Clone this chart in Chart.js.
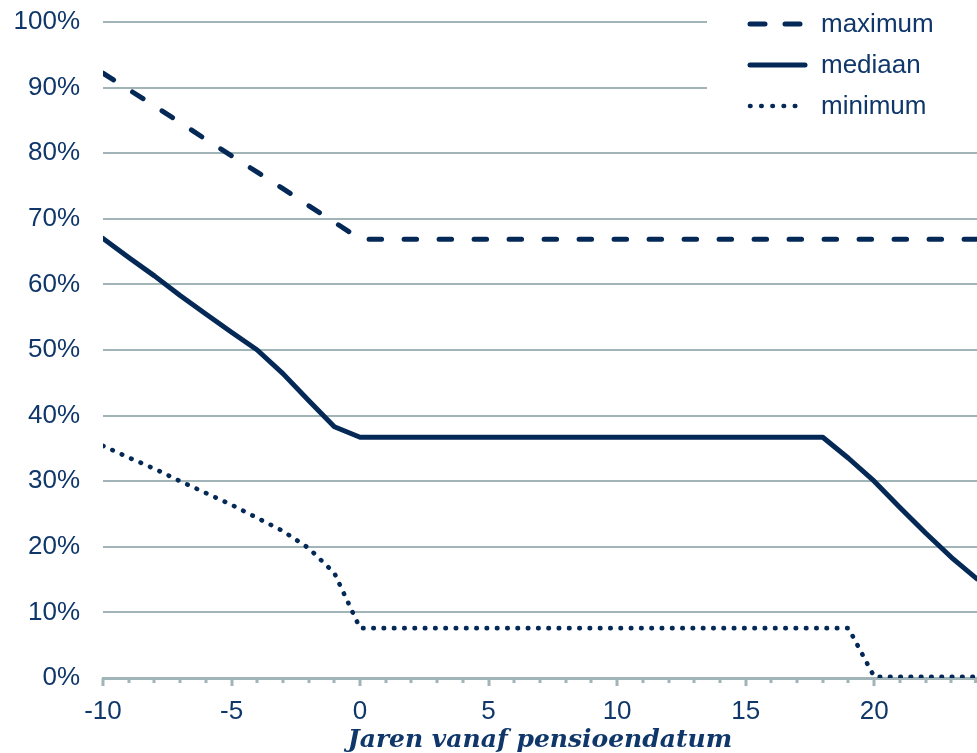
<!DOCTYPE html>
<html>
<head>
<meta charset="utf-8">
<script src="https://cdn.jsdelivr.net/npm/chart.js@4"></script>
<style>
html, body { margin: 0; padding: 0; background: #fff; }
</style>
</head>
<body>
<canvas id="grafiek" width="977" height="753"></canvas>
<script>
const jaren = [-10, -9, -8, -7, -6, -5, -4, -3, -2, -1, 0, 1, 2, 3, 4, 5, 6, 7, 8, 9, 10, 11, 12, 13, 14, 15, 16, 17, 18, 19, 20, 21, 22, 23, 24];

const maximum = [92.2, 89.7, 87.2, 84.7, 82.1, 79.6, 77.1, 74.6, 72.0, 69.5, 66.9,
    66.9, 66.9, 66.9, 66.9, 66.9, 66.9, 66.9, 66.9, 66.9, 66.9, 66.9, 66.9, 66.9, 66.9,
    66.9, 66.9, 66.9, 66.9, 66.9, 66.9, 66.9, 66.9, 66.9, 66.9];

const mediaan = [67.0, 64.1, 61.3, 58.3, 55.5, 52.7, 50.0, 46.4, 42.3, 38.3, 36.7,
    36.7, 36.7, 36.7, 36.7, 36.7, 36.7, 36.7, 36.7, 36.7, 36.7, 36.7, 36.7, 36.7, 36.7,
    36.7, 36.7, 36.7, 36.7, 33.5, 30.0, 26.0, 22.1, 18.4, 15.1];

const minimum = [35.4, 33.6, 31.9, 30.0, 28.2, 26.4, 24.4, 22.4, 19.8, 16.0, 7.6,
    7.6, 7.6, 7.6, 7.6, 7.6, 7.6, 7.6, 7.6, 7.6, 7.6, 7.6, 7.6, 7.6, 7.6,
    7.6, 7.6, 7.6, 7.6, 7.6, 0.2, 0.2, 0.2, 0.2, 0.2];

const yTicks = [0, 10, 20, 30, 40, 50, 60, 70, 80, 90, 100];
const xTitel = "Jaren vanaf pensioendatum";

const lijnKleur = "#042957";
const tekstKleur = "#10376a";
const rasterKleur = "#a1b5b9";
const letter = "'Liberation Sans', Arial, sans-serif";

function punten(reeks) {
    return jaren.map((j, i) => ({ x: j, y: reeks[i] }));
}

const stijlen = [
    { label: "maximum", dash: [15, 20], width: 5 },
    { label: "mediaan", dash: [], width: 5 },
    { label: "minimum", dash: [0.5, 10.7], width: 4.6 }
];

// legenda rechtsboven, met witte achtergrond over het raster
const legendaPlugin = {
    id: "legenda",
    beforeDatasetsDraw(chart) {
        const ctx = chart.ctx;
        ctx.save();
        ctx.fillStyle = "#fff";
        ctx.fillRect(707, 0, 270, 126);
        const rijen = [24, 65, 106];
        stijlen.forEach((s, i) => {
            ctx.beginPath();
            ctx.strokeStyle = lijnKleur;
            ctx.lineWidth = s.width;
            ctx.lineCap = "round";
            ctx.setLineDash(s.dash);
            ctx.moveTo(750, rijen[i]);
            ctx.lineTo(805, rijen[i]);
            ctx.stroke();
            ctx.setLineDash([]);
            ctx.fillStyle = tekstKleur;
            ctx.font = "26px " + letter;
            ctx.textBaseline = "middle";
            ctx.textAlign = "left";
            ctx.fillText(s.label, 821, rijen[i] + 1);
        });
        ctx.restore();
    }
};

// streepjes onder de x-as, lang bij elke 5 jaar
const streepjesPlugin = {
    id: "streepjes",
    afterDraw(chart) {
        const x = chart.scales.x;
        const ctx = chart.ctx;
        const y0 = chart.chartArea.bottom;
        ctx.save();
        ctx.strokeStyle = rasterKleur;
        ctx.lineWidth = 3;
        jaren.forEach(j => {
            const px = Math.min(Math.round(x.getPixelForValue(j)), 975.5);
            ctx.beginPath();
            ctx.moveTo(px, y0);
            ctx.lineTo(px, y0 + (j % 5 === 0 ? 8 : 5));
            ctx.stroke();
        });
        ctx.restore();
    }
};

new Chart(document.getElementById("grafiek"), {
    type: "line",
    data: {
        datasets: [
            { label: "maximum", data: punten(maximum), borderDash: [12.5, 22.5] },
            { label: "mediaan", data: punten(mediaan) },
            { label: "minimum", data: punten(minimum), borderDash: [0.5, 9.8], borderWidth: 4.6 }
        ]
    },
    options: {
        responsive: false,
        animation: false,
        layout: { padding: { top: 22, right: 0, left: 0, bottom: 0 } },
        elements: {
            point: { radius: 0 },
            line: {
                borderColor: lijnKleur,
                borderWidth: 5,
                borderCapStyle: "round",
                borderJoinStyle: "round",
                tension: 0
            }
        },
        plugins: {
            legend: { display: false },
            tooltip: { enabled: false }
        },
        scales: {
            x: {
                type: "linear",
                min: -10,
                max: 24,
                afterFit(scale) {
                    scale.height = 75;
                    scale.paddingLeft = 0;
                    scale.paddingRight = 0;
                },
                ticks: {
                    stepSize: 1,
                    autoSkip: false,
                    maxRotation: 0,
                    padding: 18,
                    color: tekstKleur,
                    font: { family: letter, size: 26 },
                    callback: v => (v % 5 === 0 ? String(v) : "")
                },
                grid: { drawOnChartArea: false, drawTicks: false },
                border: { display: true, color: rasterKleur, width: 3 },
                title: {
                    display: true,
                    text: xTitel,
                    color: tekstKleur,
                    padding: { top: 0, bottom: -2 },
                    font: { family: "'DejaVu Serif', serif", style: "italic", weight: "bold", size: 25 }
                }
            },
            y: {
                min: 0,
                max: 100,
                afterFit(scale) {
                    scale.width = 103;
                    scale.paddingTop = 0;
                    scale.paddingBottom = 0;
                },
                afterBuildTicks(scale) { scale.ticks = yTicks.map(v => ({ value: v })); },
                ticks: {
                    padding: 23,
                    color: tekstKleur,
                    font: { family: letter, size: 26 },
                    callback: v => v + "%"
                },
                grid: { color: rasterKleur, lineWidth: 2, drawTicks: false },
                border: { display: false }
            }
        }
    },
    plugins: [legendaPlugin, streepjesPlugin]
});
</script>
</body>
</html>
